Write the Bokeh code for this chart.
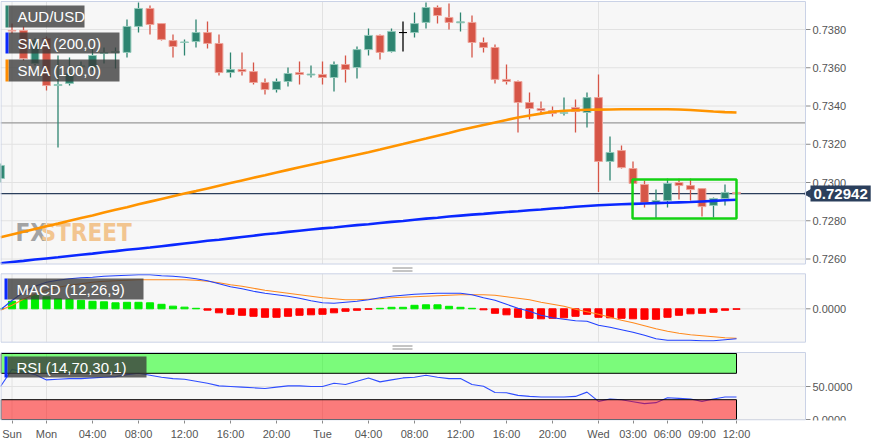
import math
from bokeh.plotting import figure
from bokeh.models import (ColumnDataSource, FixedTicker, Label, BoxAnnotation, Range1d)
from bokeh.core.properties import value
from bokeh.embed import file_html
from bokeh.resources import INLINE

# ---------------- data ----------------
hours = list(range(-1, 64))  # hourly bars, 0 = Sun 21:00
open_ = [0.73021, 0.73795, 0.73795, 0.73622, 0.73753, 0.73507, 0.73518, 0.73605, 0.73601, 0.73675,
         0.73680, 0.73680, 0.73816, 0.73910, 0.73831, 0.73742, 0.73732, 0.73737, 0.73784, 0.73727,
         0.73575, 0.73591, 0.73580, 0.73523, 0.73486, 0.73528, 0.73575, 0.73562, 0.73565, 0.73549,
         0.73617, 0.73601, 0.73695, 0.73769, 0.73685, 0.73784, 0.73784, 0.73837, 0.73915, 0.73863,
         0.73835, 0.73837, 0.73732, 0.73706, 0.73539, 0.73528, 0.73418, 0.73387, 0.73376, 0.73362,
         0.73392, 0.73366, 0.73444, 0.73110, 0.73167, 0.73073, 0.72990, 0.72895, 0.72906, 0.73000,
         0.72984, 0.72968, 0.72880, 0.72916, 0.72948]
high = [0.73100, 0.73831, 0.73816, 0.73753, 0.73763, 0.73664, 0.73654, 0.73633, 0.73706, 0.73706,
        0.73706, 0.73852, 0.73941, 0.73925, 0.73831, 0.73774, 0.73748, 0.73852, 0.73842, 0.73774,
        0.73680, 0.73680, 0.73627, 0.73544, 0.73544, 0.73601, 0.73633, 0.73612, 0.73633, 0.73633,
        0.73664, 0.73711, 0.73805, 0.73774, 0.73805, 0.73842, 0.73889, 0.73941, 0.73925, 0.73936,
        0.73889, 0.73873, 0.73758, 0.73722, 0.73617, 0.73533, 0.73470, 0.73423, 0.73397, 0.73444,
        0.73434, 0.73470, 0.73565, 0.73240, 0.73193, 0.73110, 0.73010, 0.72963, 0.73021, 0.73021,
        0.73021, 0.72968, 0.72921, 0.72990, 0.72950]
low = [0.73000, 0.73779, 0.73638, 0.73612, 0.73481, 0.73183, 0.73507, 0.73580, 0.73586, 0.73622,
       0.73596, 0.73654, 0.73784, 0.73774, 0.73742, 0.73654, 0.73664, 0.73706, 0.73701, 0.73560,
       0.73549, 0.73560, 0.73512, 0.73460, 0.73470, 0.73502, 0.73512, 0.73549, 0.73512, 0.73476,
       0.73523, 0.73544, 0.73664, 0.73643, 0.73680, 0.73685, 0.73758, 0.73805, 0.73831, 0.73800,
       0.73790, 0.73654, 0.73680, 0.73518, 0.73512, 0.73261, 0.73330, 0.73361, 0.73345, 0.73350,
       0.73261, 0.73287, 0.72950, 0.73010, 0.73073, 0.72995, 0.72869, 0.72812, 0.72869, 0.72911,
       0.72906, 0.72822, 0.72817, 0.72880, 0.72942]
close = [0.73089, 0.73792, 0.73648, 0.73742, 0.73507, 0.73512, 0.73570, 0.73610, 0.73664, 0.73680,
         0.73685, 0.73816, 0.73910, 0.73826, 0.73748, 0.73711, 0.73735, 0.73784, 0.73727, 0.73575,
         0.73591, 0.73580, 0.73523, 0.73486, 0.73528, 0.73570, 0.73565, 0.73567, 0.73549, 0.73617,
         0.73591, 0.73695, 0.73769, 0.73680, 0.73790, 0.73784, 0.73831, 0.73915, 0.73873, 0.73837,
         0.73840, 0.73732, 0.73706, 0.73539, 0.73528, 0.73418, 0.73387, 0.73376, 0.73361, 0.73365,
         0.73371, 0.73444, 0.73110, 0.73157, 0.73078, 0.72995, 0.72895, 0.72906, 0.72995, 0.72984,
         0.72963, 0.72874, 0.72916, 0.72948, 0.72942]
sma200 = [0.72578, 0.72584, 0.72590, 0.72597, 0.72603, 0.72609, 0.72616, 0.72622, 0.72628, 0.72635,
          0.72641, 0.72648, 0.72654, 0.72660, 0.72667, 0.72674, 0.72681, 0.72688, 0.72695, 0.72701,
          0.72708, 0.72715, 0.72722, 0.72729, 0.72735, 0.72742, 0.72748, 0.72754, 0.72760, 0.72765,
          0.72771, 0.72777, 0.72782, 0.72788, 0.72794, 0.72799, 0.72805, 0.72811, 0.72816, 0.72822,
          0.72827, 0.72832, 0.72836, 0.72841, 0.72846, 0.72850, 0.72855, 0.72859, 0.72864, 0.72868,
          0.72873, 0.72877, 0.72881, 0.72884, 0.72886, 0.72888, 0.72890, 0.72892, 0.72894, 0.72896,
          0.72898, 0.72901, 0.72904, 0.72907, 0.72910]
sma100 = [0.72714, 0.72728, 0.72742, 0.72757, 0.72771, 0.72785, 0.72800, 0.72814, 0.72828, 0.72843,
          0.72857, 0.72871, 0.72886, 0.72900, 0.72914, 0.72928, 0.72942, 0.72955, 0.72969, 0.72983,
          0.72997, 0.73011, 0.73025, 0.73038, 0.73052, 0.73066, 0.73080, 0.73093, 0.73106, 0.73119,
          0.73132, 0.73145, 0.73158, 0.73172, 0.73187, 0.73201, 0.73216, 0.73230, 0.73245, 0.73259,
          0.73274, 0.73288, 0.73301, 0.73314, 0.73327, 0.73340, 0.73350, 0.73360, 0.73370, 0.73375,
          0.73378, 0.73380, 0.73381, 0.73382, 0.73383, 0.73383, 0.73383, 0.73383, 0.73383, 0.73382,
          0.73379, 0.73375, 0.73371, 0.73368, 0.73366]
macd = [-0.00002, 0.000166, 0.00033, 0.00045, 0.00053, 0.00057, 0.00060, 0.00062, 0.00063, 0.00065,
        0.00066, 0.00067, 0.00068, 0.00068, 0.00066, 0.00065, 0.00063, 0.00060, 0.00056, 0.00050,
        0.00044, 0.00040, 0.00035, 0.00031, 0.00028, 0.00025, 0.00021, 0.00016, 0.00012, 0.00011,
        0.00013, 0.00015, 0.00018, 0.00022, 0.00025, 0.00027, 0.00029, 0.00030, 0.00031, 0.00031,
        0.00031, 0.00028, 0.00022, 0.00017, 0.00009, 0.00001, -0.00005, -0.00013, -0.00018, -0.00021,
        -0.00024, -0.00025, -0.00033, -0.00037, -0.00042, -0.00047, -0.00053, -0.00060, -0.00063, -0.00063,
        -0.00063, -0.00064, -0.00064, -0.00062, -0.00060]
signal = [-0.00003, 0.00007, 0.00019, 0.00029, 0.00037, 0.00043, 0.00047, 0.00050, 0.00053, 0.00055,
          0.00056, 0.00057, 0.00058, 0.00058, 0.00058, 0.00058, 0.00058, 0.00057, 0.00055, 0.00052,
          0.00048, 0.00045, 0.00041, 0.00037, 0.00034, 0.00031, 0.00028, 0.00025, 0.00022, 0.00020,
          0.00018, 0.00018, 0.00019, 0.00020, 0.00022, 0.00023, 0.00024, 0.00025, 0.00026, 0.00027,
          0.00028, 0.00028, 0.00028, 0.00027, 0.00024, 0.00021, 0.00018, 0.00013, 0.00009, 0.00005,
          -0.00001, -0.00006, -0.00011, -0.00017, -0.00023, -0.00028, -0.00034, -0.00040, -0.00045, -0.00049,
          -0.00052, -0.00054, -0.00056, -0.00058, -0.00059]
hist = [0.00001, 0.00015, 0.00019, 0.00027, 0.00024, 0.00020, 0.00019, 0.00017, 0.00015, 0.00014,
        0.00012, 0.00013, 0.00013, 0.00012, 0.00009, 0.000053, 0.000033, 0.00001, -0.000027, -0.00008,
        -0.00011, -0.00013, -0.00015, -0.00017, -0.00017, -0.00015, -0.00013, -0.00012, -0.00011, -0.00008,
        -0.00005, -0.00003, -0.00001, 0.00001, 0.00003, 0.00003, 0.00007, 0.00008, 0.00008, 0.00005,
        0.00003, 0.00001, -0.00002, -0.00009, -0.00012, -0.00017, -0.00019, -0.00020, -0.00019, -0.00018,
        -0.00015, -0.00011, -0.00017, -0.00018, -0.00019, -0.00020, -0.00021, -0.00021, -0.00017, -0.00013,
        -0.00010, -0.00009, -0.00007, -0.00003, -0.00001]
rsi = [50, 76, 72, 68, 60, 61, 62, 62, 63, 64,
       65, 68, 70, 67, 64, 62, 61, 58, 55, 51,
       50, 49, 48, 47, 49, 51, 51, 50, 50, 55,
       53, 58, 63, 57, 60, 63, 64, 67, 64, 62,
       62, 53, 50.5, 41, 40.5, 36.5, 35, 34, 34, 34,
       35, 41.5, 27.5, 31, 30, 27, 24, 25.5, 33, 32,
       31, 27.5, 31, 34, 34]

tick_hours = [0, 3, 7, 11, 15, 19, 23, 27, 31, 35, 39, 43, 47, 51, 54, 57, 60, 63]
tick_labels = ["Sun", "Mon", "04:00", "08:00", "12:00", "16:00", "20:00", "Tue", "04:00", "08:00",
               "12:00", "16:00", "20:00", "Wed", "03:00", "06:00", "09:00", "12:00"]
day_hours = [0, 3, 27, 51]
price_ticks = [0.7260, 0.7280, 0.7300, 0.7320, 0.7340, 0.7360, 0.7380]
macd_ticks = [0.0]
rsi_ticks = [0, 50]
resistance_level = 0.73312
range_box = dict(left=53.96, right=63.0, top=0.73016, bottom=0.72812)
rsi_upper, rsi_lower, rsi_max = 70, 30, 100

for arr in (open_, high, low, close, sma200, sma100, macd, signal, hist, rsi):
    assert len(arr) == len(hours)

# ---------------- layout constants (pixels inside the single frame) ----------------
W, H = 875, 420            # frame size
PANEL_W = 805              # panels end here; right of it is the value scale
X0 = -1.0
PXH = 11.5                 # pixels per hourly bar
X_END = X0 + W / PXH
FONT = "Liberation Sans"
GREEN, RED = "#2e8571", "#d65547"
GREEN_L, RED_L = "#93c9ba", "#eea59b"
BG, EDGE = "#f7f7f7", "#cad2e6"
GRID = "#e2e2e2"
TAG = "#2b3f5c"

# panel: value->pixel mapping (v1, px1, v2, px2) and vertical extent (top px, bottom px)
PANELS = {
    "default": dict(m=(0.7380, 29.0, 0.7260, 258.5), ext=(1.0, 263.5), ticks=price_ticks),
    "macd": dict(m=(0.0, 308.3, 0.0007, 273.3), ext=(273.3, 341.7), ticks=macd_ticks),
    "rsi": dict(m=(0.0, 419.0, 50.0, 386.0), ext=(352.0, 419.5), ticks=rsi_ticks),
}


def fx(px):
    return X0 + px / PXH


def val(name, px):
    v1, p1, v2, p2 = PANELS[name]["m"]
    return v1 + (px - p1) * (v2 - v1) / (p2 - p1)


def rng(name):
    return Range1d(val(name, H), val(name, 0))


XP = fx(PANEL_W)

p = figure(frame_width=W, frame_height=H, x_range=Range1d(X0, X_END), y_range=rng("default"),
           output_backend="svg", toolbar_location=None, y_axis_location=None,
           min_border_left=0, min_border_right=0, min_border_top=0, min_border_bottom=0)
p.extra_y_ranges = {"macd": rng("macd"), "rsi": rng("rsi")}
p.background_fill_color = "white"
p.border_fill_color = "white"
p.outline_line_color = None
p.xgrid.visible = False
p.ygrid.visible = False

# panel backgrounds, grids, value scales
for name, pn in PANELS.items():
    top, bot = val(name, pn["ext"][0]), val(name, pn["ext"][1])
    ticks = pn["ticks"]
    labels = [f"{t:.4f}" for t in ticks]
    p.add_layout(BoxAnnotation(left=X0, right=XP, top=top, bottom=bot, y_range_name=name,
                               fill_color=BG, fill_alpha=1, line_color=None, level="underlay"))
    p.segment(x0=[X0] * len(ticks), x1=[XP] * len(ticks), y0=ticks, y1=ticks,
              line_color=GRID, line_width=1, y_range_name=name)
    p.segment(x0=day_hours, x1=day_hours, y0=[bot] * len(day_hours), y1=[top] * len(day_hours),
              line_color=GRID, line_width=1, y_range_name=name)
    p.segment(x0=[XP] * len(ticks), x1=[fx(PANEL_W + 5)] * len(ticks), y0=ticks, y1=ticks,
              line_color="#8a8a8a", line_width=1, y_range_name=name)
    p.text(x=[fx(PANEL_W + 7)] * len(ticks), y=ticks, text=labels, y_range_name=name,
           text_font=value(FONT), text_font_size="11px", text_color="#555555",
           text_baseline="middle", text_align="left")

# ---------------- main price panel ----------------
src = ColumnDataSource(dict(
    h=hours, o=open_, hi=high, lo=low, c=close,
    top=[max(a, b) for a, b in zip(open_, close)],
    bot=[min(a, b) for a, b in zip(open_, close)],
    col=[GREEN if c > o else (RED if c < o else "black") for o, c in zip(open_, close)],
    lcol=[GREEN_L if c > o else (RED_L if c < o else "black") for o, c in zip(open_, close)],
))

WM_FONT = "'Liberation Sans Narrow', 'DejaVu Sans Condensed', 'Liberation Sans'"
p.add_layout(Label(x=fx(15), y=val("default", 232), text="FX", text_baseline="middle",
                   text_font=WM_FONT, text_font_size="24px", text_font_style="bold",
                   text_color="#a3a3a3", level="underlay"))
p.add_layout(Label(x=fx(40), y=val("default", 232), text="STREET", text_baseline="middle",
                   text_font=WM_FONT, text_font_size="24px", text_font_style="bold",
                   text_color="#f2c590", level="underlay"))

p.segment(x0=[X0], x1=[XP], y0=[resistance_level], y1=[resistance_level],
          line_color="#9a9a9a", line_width=1.3)
p.segment(x0=[X0], x1=[XP], y0=[close[-1]], y1=[close[-1]], line_color=TAG, line_width=1.2)

p.segment(x0="h", y0="lo", x1="h", y1="hi", source=src, line_color="col", line_width=1.3)
p.vbar(x="h", top="top", bottom="bot", width=0.68, source=src, fill_color="col",
       line_color="lcol", line_width=1)

p.line(hours, sma100, line_color="#ff9400", line_width=2.6)
p.line(hours, sma200, line_color="#0a28ff", line_width=2.6)

p.add_layout(BoxAnnotation(fill_alpha=0, line_color="#14d214", line_alpha=1, line_width=2.5,
                           **range_box))

# ---------------- MACD panel ----------------
p.vbar(x=hours, top=hist, bottom=0, width=0.62, y_range_name="macd",
       color=["#00ee00" if v >= 0 else "#ff0000" for v in hist])
p.line(hours, signal, line_color="#ff8a1e", line_width=1.1, y_range_name="macd")
p.line(hours, macd, line_color="#2040ff", line_width=1.1, y_range_name="macd")

# ---------------- RSI panel ----------------
p.line(hours, rsi, line_color="#2f4dff", line_width=1.1, y_range_name="rsi")
p.add_layout(BoxAnnotation(left=fx(0.5), bottom=rsi_upper, top=rsi_max, right=hours[-1],
                           y_range_name="rsi", fill_color="#00ff00", fill_alpha=0.5,
                           line_color="black", line_alpha=1, line_width=1))
p.add_layout(BoxAnnotation(left=fx(0.5), bottom=0, top=rsi_lower, right=hours[-1],
                           y_range_name="rsi", fill_color="#ff0000", fill_alpha=0.5,
                           line_color="black", line_alpha=1, line_width=1))

# ---------------- panel outlines, legends, handles ----------------
for name, pn in PANELS.items():
    top, bot = val(name, pn["ext"][0]), val(name, pn["ext"][1])
    p.add_layout(BoxAnnotation(left=fx(0.5), right=XP, top=top, bottom=bot, y_range_name=name,
                               fill_alpha=0, line_color=EDGE, line_alpha=1, line_width=1))


def legend(name, text, color, x_l, x_r, t_px, b_px, c_px):
    p.add_layout(BoxAnnotation(left=fx(x_l), right=fx(x_r), top=val(name, t_px),
                               bottom=val(name, b_px), y_range_name=name,
                               fill_color="#3a3a3a", fill_alpha=0.78, line_color=None))
    p.add_layout(BoxAnnotation(left=fx(x_l - 3), right=fx(x_l), top=val(name, t_px),
                               bottom=val(name, b_px), y_range_name=name,
                               fill_color=color, fill_alpha=1, line_color=None))
    p.add_layout(Label(x=fx(x_l + 9), y=val(name, c_px), y_range_name=name, text=text,
                       text_baseline="middle", text_font=FONT, text_font_size="15px",
                       text_color="white"))


legend("default", "AUD/USD", GREEN, 8, 84, 5, 27, 16)
legend("default", "SMA (200,0)", "#0a28ff", 8, 119, 32, 53, 42.5)
legend("default", "SMA (100,0)", "#ff8c00", 8, 119, 59, 81, 70)
legend("macd", "MACD (12,26,9)", "#0a28ff", 7, 143, 278, 299, 288.5)
legend("rsi", "RSI (14,70,30,1)", "#0a28ff", 7, 146, 356, 377, 366.5)

for hp in (267.5, 270.5, 345.5, 348.5):
    p.segment(x0=[fx(392)], x1=[fx(412)], y0=[val("default", hp)], y1=[val("default", hp)],
              line_color="#8a8a8a", line_width=1)

# last price tag
p.scatter(x=[fx(PANEL_W + 3)], y=[close[-1]], marker="triangle", angle=math.pi / 2, size=8,
          fill_color=TAG, line_color=TAG)
p.add_layout(Label(x=fx(PANEL_W + 5), y=close[-1], text=f"{close[-1]:.5f}", text_baseline="middle",
                   text_font=FONT, text_font_size="15px", text_font_style="bold",
                   text_color="white", background_fill_color=TAG, background_fill_alpha=1,
                   padding=3))

# ---------------- time axis ----------------
xa = p.xaxis[0]
xa.ticker = FixedTicker(ticks=tick_hours)
xa.major_label_overrides = {h: lab for h, lab in zip(tick_hours, tick_labels)}
xa.axis_line_color = None
xa.major_tick_out = 3
xa.major_tick_in = 0
xa.minor_tick_line_color = None
xa.major_tick_line_color = "#8a8a8a"
xa.major_label_text_font = FONT
xa.major_label_text_font_size = "11px"
xa.major_label_text_color = "#555555"
xa.major_label_standoff = 4

open("out.html", "w").write(file_html(p, INLINE))
